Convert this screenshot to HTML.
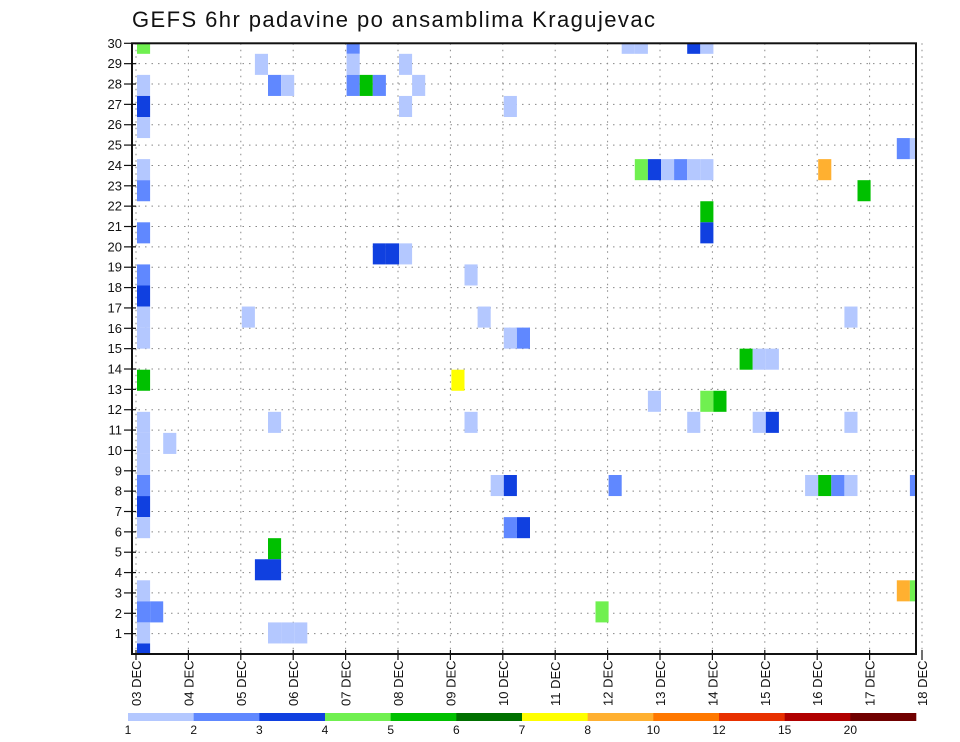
<!DOCTYPE html>
<html><head><meta charset="utf-8"><style>
html,body{margin:0;padding:0;background:#fff;}
svg{display:block;font-family:"Liberation Sans",sans-serif;}
</style></head><body>
<svg id="chart" width="960" height="742" viewBox="0 0 960 742" xmlns="http://www.w3.org/2000/svg">
<text x="132" y="27" font-size="22" textLength="523" fill="#111">GEFS 6hr padavine po ansamblima Kragujevac</text>
<g id="grid"></g><g id="cells"></g><g id="axes"></g><g id="legend"></g>
</svg>
<script>
// Data: each cell = ensemble member index, 6h step index (from 03 DEC 00Z), precipitation mm
const cellMember = [
 29,29,29,29,29,29,
 28,28,28,
 27,27,27,27,27,27,27,
 26,26,26,
 25,
 24,24,
 23,23,23,23,23,23,23,23,
 22,22,
 21,
 20,20,
 19,19,19,
 18,18,
 17,
 16,16,16,16,
 15,15,15,
 14,14,14,
 13,13,
 12,12,12,
 11,11,11,11,11,11,11,
 10,10,
 9,
 8,8,8,8,8,8,8,8,8,
 7,
 6,6,6,
 5,
 4,4,
 3,3,3,
 2,2,2,
 1,1,1,1,
 0];
const cellStep = [
 0,16,37,38,42,43,
 9,16,20,
 0,10,11,16,17,18,21,
 0,20,28,
 0,
 58,59,
 0,38,39,40,41,42,43,52,
 0,55,
 43,
 0,43,
 18,19,20,
 0,25,
 0,
 0,8,26,54,
 0,28,29,
 46,47,48,
 0,24,
 39,43,44,
 0,10,25,42,47,48,54,
 0,2,
 0,
 0,27,28,36,51,52,53,54,59,
 0,
 0,28,29,
 10,
 9,10,
 0,58,59,
 0,1,35,
 0,10,11,12,
 0];
const cellValue = [
 4.5,2.5,1.5,1.5,3.5,1.5,
 1.5,1.5,1.5,
 1.5,2.5,1.5,2.5,5.5,2.5,1.5,
 3.5,1.5,1.5,
 1.5,
 2.5,1.5,
 1.5,4.5,3.5,1.5,2.5,1.5,1.5,9,
 2.5,5.5,
 5.5,
 2.5,3.5,
 3.5,3.5,1.5,
 2.5,1.5,
 3.5,
 1.5,1.5,1.5,1.5,
 1.5,1.5,2.5,
 5.5,1.5,1.5,
 5.5,7.5,
 1.5,4.5,5.5,
 1.5,1.5,1.5,1.5,1.5,3.5,1.5,
 1.5,1.5,
 1.5,
 2.5,1.5,3.5,2.5,1.5,5.5,2.5,1.5,2.5,
 3.5,
 1.5,2.5,3.5,
 5.5,
 3.5,3.5,
 1.5,9,4.5,
 2.5,2.5,4.5,
 1.5,1.5,1.5,1.5,
 3.5];
const dayLabels = ["03","04","05","06","07","08","09","10","11","12","13","14","15","16","17","18"];
const yTicks = [1,2,3,4,5,6,7,8,9,10,11,12,13,14,15,16,17,18,19,20,21,22,23,24,25,26,27,28,29,30];
const levelBounds = [1,2,3,4,5,6,7,8,10,12,15,20];
const levelColors = ["#b4c8ff","#6088ff","#1040e0","#70f050","#00c000","#007000","#ffff00","#ffb030","#ff7800","#e83000","#b00000","#700000"];

const NS="http://www.w3.org/2000/svg";
const L=132,R=916,T=43.3,B=654;
const dayX = d => 136 + d*52.4;
const stepX = s => 137 + s*13.1;
const rowY = r => T + (30-r)*(B-T)/30;
const memY = j => B - j*(B-T)/29;
const cellH = (B-T)/29;
function colorFor(v){let i=0;for(let k=0;k<levelBounds.length;k++){if(v>=levelBounds[k])i=k;}return levelColors[i];}
function mk(tag,attrs,parent){const e=document.createElementNS(NS,tag);for(const k in attrs)e.setAttribute(k,attrs[k]);parent.appendChild(e);return e;}

const grid=document.getElementById('grid');
yTicks.forEach(r=>{const l=mk('line',{x1:L,x2:R,y1:rowY(r),y2:rowY(r),stroke:'#888','stroke-width':1,'stroke-dasharray':'1.5,5'},grid);

});
dayLabels.forEach((d,i)=>{const l=mk('line',{x1:dayX(i),x2:dayX(i),y1:T,y2:B,stroke:'#888','stroke-width':1,'stroke-dasharray':'1.5,5'},grid);

});

const defs=mk('defs',{},document.getElementById('chart'));
const cp=mk('clipPath',{id:'clip'},defs);mk('rect',{x:L,y:T,width:R-L,height:B-T},cp);
const cg=mk('g',{'clip-path':'url(#clip)'},document.getElementById('cells'));
const n=Math.min(cellMember.length,cellStep.length,cellValue.length);
for(let i=0;i<n;i++){
 const r=mk('rect',{x:stepX(cellStep[i]),y:memY(cellMember[i])-cellH/2,width:13.1,height:cellH,fill:colorFor(cellValue[i])},cg);
 
 
}

const ax=document.getElementById('axes');
const box=mk('rect',{x:L,y:T,width:R-L,height:B-T,fill:'none',stroke:'#111','stroke-width':2},ax);


yTicks.forEach(r=>{
 const t=mk('line',{x1:124,x2:136,y1:rowY(r),y2:rowY(r),stroke:'#111','stroke-width':1.2},ax);
 
 
 const tx=mk('text',{x:122,y:rowY(r)+4.5,'font-size':13,'text-anchor':'end',fill:'#111'},ax);
 tx.textContent=r;
 
 
});
dayLabels.forEach((d,i)=>{
 const x=dayX(i);
 const t=mk('line',{x1:x,x2:x,y1:B-4,y2:B+6,stroke:'#111','stroke-width':1.2},ax);
 
 
 const tx=mk('text',{x:0,y:0,'font-size':13,transform:`translate(${x+5},706) rotate(-90)`,fill:'#111'},ax);
 tx.textContent=d+' DEC';
 
 
});

const lg=document.getElementById('legend');
const lx0=128,lw=(916-128)/levelColors.length;
levelColors.forEach((c,i)=>{
 const r=mk('rect',{x:lx0+i*lw,y:713,width:lw+0.3,height:8,fill:c},lg);
 
 
 const t=mk('text',{x:lx0+i*lw,y:734,'font-size':12,'text-anchor':'middle',fill:'#111'},lg);
 t.textContent=levelBounds[i];
 
 
});
</script>
</body></html>
